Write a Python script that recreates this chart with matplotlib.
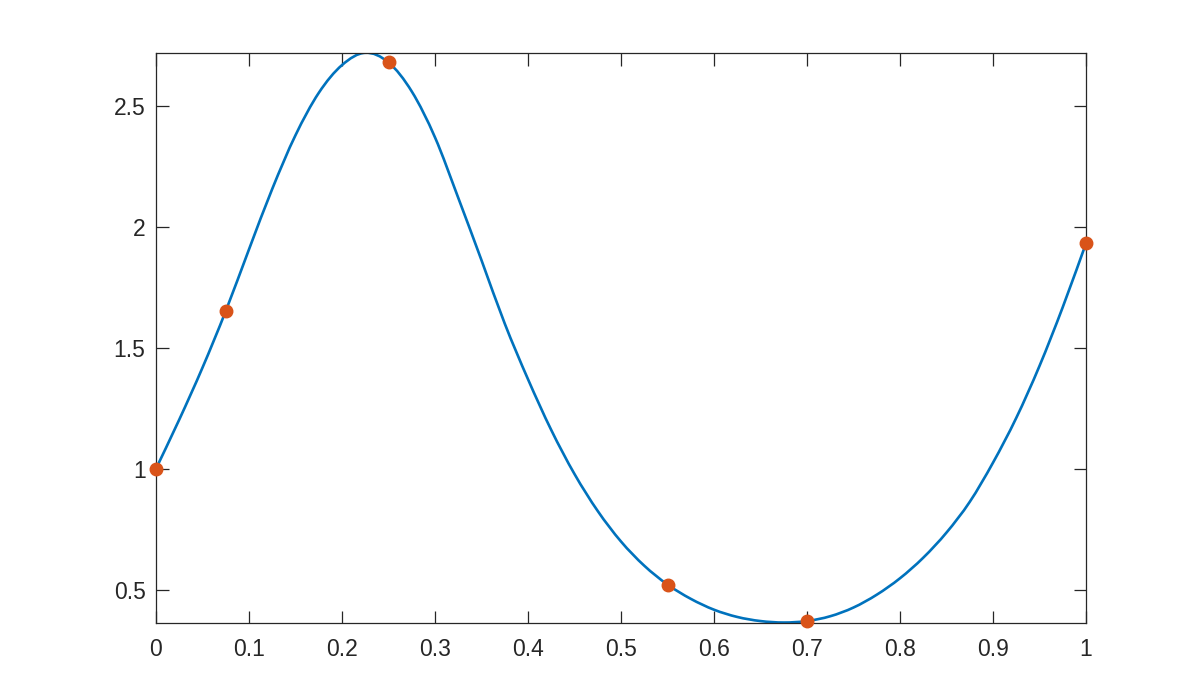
import matplotlib
matplotlib.use('Agg')
import matplotlib.pyplot as plt
from matplotlib.path import Path
from matplotlib.patches import PathPatch

# curve at steps of 0.025
curve_x = [0.0, 0.025, 0.05, 0.075, 0.1, 0.125, 0.15, 0.175, 0.2, 0.225,
           0.25, 0.275, 0.3, 0.325, 0.35, 0.375, 0.4, 0.425, 0.45, 0.475,
           0.5, 0.525, 0.55, 0.575, 0.6, 0.625, 0.65, 0.675, 0.7, 0.725,
           0.75, 0.775, 0.8, 0.825, 0.85, 0.875, 0.9, 0.925, 0.95, 0.975, 1.0]
curve_y = [1.0, 1.203, 1.418, 1.652, 1.907, 2.157, 2.379, 2.554, 2.669, 2.72,
           2.68, 2.56, 2.37, 2.12, 1.862, 1.6, 1.37, 1.16, 0.978, 0.825,
           0.699, 0.599, 0.521, 0.462, 0.417, 0.387, 0.37, 0.364, 0.37, 0.39,
           0.426, 0.479, 0.547, 0.632, 0.736, 0.863, 1.025, 1.21, 1.425, 1.668, 1.932]

# sample points
pts_x = [0.0, 0.075, 0.25, 0.55, 0.7, 1.0]
pts_y = [1.0, 1.652, 2.68, 0.521, 0.371, 1.932]

xticks = [0, 0.1, 0.2, 0.3, 0.4, 0.5, 0.6, 0.7, 0.8, 0.9, 1]
xtick_labels = ['0', '0.1', '0.2', '0.3', '0.4', '0.5', '0.6', '0.7', '0.8', '0.9', '1']
yticks = [0.5, 1, 1.5, 2, 2.5]
ytick_labels = ['0.5', '1', '1.5', '2', '2.5']


def smooth_path(xs, ys):
    # draw the read values as a smooth bezier path (catmull-rom handles)
    pts = list(zip(xs, ys))
    n = len(pts)
    verts = [pts[0]]
    codes = [Path.MOVETO]
    for i in range(n - 1):
        p0 = pts[max(i - 1, 0)]
        p1 = pts[i]
        p2 = pts[i + 1]
        p3 = pts[min(i + 2, n - 1)]
        c1 = (p1[0] + (p2[0] - p0[0]) / 6.0, p1[1] + (p2[1] - p0[1]) / 6.0)
        c2 = (p2[0] - (p3[0] - p1[0]) / 6.0, p2[1] - (p3[1] - p1[1]) / 6.0)
        verts += [c1, c2, p2]
        codes += [Path.CURVE4, Path.CURVE4, Path.CURVE4]
    return Path(verts, codes)


plt.rcParams['font.family'] = ['Liberation Sans', 'DejaVu Sans']

fig = plt.figure(figsize=(12, 7), dpi=100)
ax = fig.add_axes([0.13, 0.11, 0.775, 0.815])

ax.add_patch(PathPatch(smooth_path(curve_x, curve_y), facecolor='none',
                       edgecolor='#0072BD', linewidth=1.9, zorder=2))
ax.plot(pts_x, pts_y, linestyle='none', marker='o', markersize=9,
        color='#D95319', markeredgecolor='#D95319', clip_on=False, zorder=3)

ax.set_xlim(0, 1)
ax.set_ylim(0.362, 2.721)

ax.set_xticks(xticks)
ax.set_xticklabels(xtick_labels)
ax.set_yticks(yticks)
ax.set_yticklabels(ytick_labels)

ax.tick_params(direction='in', length=9, width=0.9, colors='#262626',
               labelsize=16.5, top=True, right=True)
ax.tick_params(axis='x', pad=10.5)
ax.tick_params(axis='y', pad=7.5)
for spine in ax.spines.values():
    spine.set_color('#262626')
    spine.set_linewidth(0.9)

fig.savefig('out.png', dpi=100)
